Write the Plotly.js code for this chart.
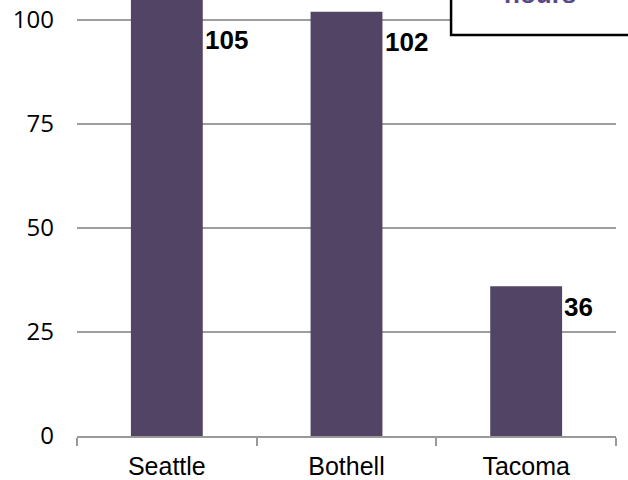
<!DOCTYPE html>
<html>
<head>
<meta charset="utf-8">
<script src="https://cdn.plot.ly/plotly-3.0.1.min.js"></script>
<style>
html,body{margin:0;padding:0;background:#fff;}
#chart{width:628px;height:480px;}
</style>
</head>
<body>
<div id="chart"></div>
<script>
// Data
var categories = ["Seattle", "Bothell", "Tacoma"];
var hours = [105, 102, 36];
var labelText = ["105", "102", "36"];
var yTicks = [0, 25, 50, 75, 100];
var legendText = "hours";

// Layout constants
var YMAX = 104.8;
var BAR_COLOR = "#524465";
var labelYShift = [-39.5, -30.8, -20.3];

var trace = {
  type: "bar",
  x: categories,
  y: hours,
  marker: {color: BAR_COLOR},
  hoverinfo: "skip",
  cliponaxis: true
};

var annotations = categories.map(function (c, i) {
  return {
    xref: "x", yref: "y",
    x: c, y: Math.min(hours[i], YMAX),
    text: "<b>" + labelText[i] + "</b>",
    showarrow: false,
    xanchor: "left", yanchor: "middle",
    xshift: 36, yshift: labelYShift[i],
    font: {family: "Liberation Sans, Arial, sans-serif", size: 26, color: "#000"}
  };
});

annotations.push({
  xref: "paper", yref: "paper",
  x: 0.859, y: 0.9885,
  xanchor: "center", yanchor: "bottom",
  yshift: -6,
  text: "<b>" + legendText + "</b>",
  showarrow: false,
  font: {family: "Liberation Sans, Arial, sans-serif", size: 26, color: "#5a4a88"}
});

var layout = {
  width: 628, height: 480,
  margin: {l: 77, r: 12, t: 0, b: 44, pad: 0},
  paper_bgcolor: "#fff",
  plot_bgcolor: "#fff",
  showlegend: false,
  bargap: 0.6,
  xaxis: {
    type: "category",
    showline: true, linecolor: "#999", linewidth: 2,
    ticks: "outside", ticklen: 8, tickwidth: 2, tickcolor: "#999",
    tickson: "boundaries",
    showgrid: false,
    tickfont: {family: "Liberation Sans, Arial, sans-serif", size: 25, color: "#000"},
    ticklabelstandoff: 7
  },
  yaxis: {
    range: [0, YMAX],
    tickvals: yTicks,
    ticktext: yTicks.map(String),
    showgrid: true, gridcolor: "#9e9e9e", gridwidth: 1.5,
    zeroline: false, showline: false, ticks: "",
    tickfont: {family: "Open Sans, sans-serif", size: 24, color: "#000"},
    ticklabelstandoff: 22
  },
  shapes: [{
    type: "rect", xref: "paper", yref: "paper",
    x0: 0.694, x1: 1.1, y0: 0.9197, y1: 1.2,
    line: {color: "#000", width: 2.5},
    fillcolor: "#fff",
    layer: "above"
  }],
  annotations: annotations
};

Plotly.newPlot("chart", [trace], layout, {staticPlot: true, displayModeBar: false});
</script>
</body>
</html>
